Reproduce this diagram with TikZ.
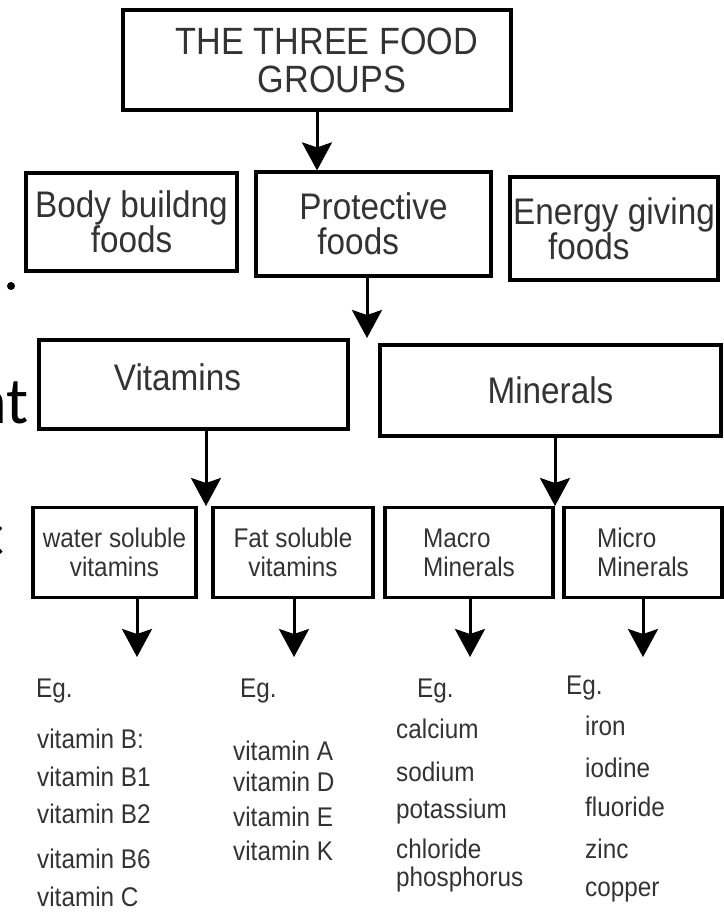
\documentclass[tikz,border=0pt]{standalone}
\usepackage{fontspec}
\setmainfont{Liberation Sans}
\newfontfamily\boxfont[FakeStretch=0.9]{Liberation Sans}
\newfontfamily\slidefont{Carlito}
\usetikzlibrary{arrows.meta}

\begin{document}
\begin{tikzpicture}[x=1pt, y=-1pt,
    box/.style={draw, line width=3.2pt, inner sep=0pt, align=center, text=black!80},
    big/.style={font=\boxfont\fontsize{37}{35}\selectfont},
    small/.style={font=\boxfont\fontsize{27}{29}\selectfont},
    arr/.style={line width=3pt, -{Stealth[length=28pt, width=30pt, inset=5pt]}},
    item/.style={anchor=base west, inner sep=0pt, text=black!80, font=\boxfont\fontsize{27}{30}\selectfont},
    frag/.style={anchor=base east, inner sep=0pt, font=\slidefont\fontsize{66}{66}\selectfont}]
    \useasboundingbox (0,0) rectangle (723,913);

    % bits of the slide behind
    \fill (11,286) circle (4pt);
    \node[frag] (fragnt) at (29,423) {nt};
    \node[frag] (fragc) at (5,556) {c};

    % boxes
    \node[box, minimum width=388pt, minimum height=100pt, font=\boxfont\fontsize{38}{38}\selectfont] (groups) at (317,60) {\hspace*{20pt}THE THREE FOOD\\\hspace*{30pt}GROUPS};
    \node[box, big, minimum width=211pt, minimum height=98pt] (body) at (131.5,222) {Body buildng\\foods};
    \node[box, big, minimum width=235pt, minimum height=104pt, align=left] (prot) at (373.5,224) {Protective\\\hspace*{18pt}foods};
    \node[box, big, minimum width=208pt, minimum height=103pt, align=left] (energy) at (614,228.5) {Energy giving\\\hspace*{35pt}foods};
    \node[box, big, minimum width=309pt, minimum height=89pt] (vit) at (193.5,384.5) {\raisebox{14pt}{Vitamins}\hspace*{32pt}};
    \node[box, big, minimum width=341pt, minimum height=91pt] (mins) at (550.5,390.5) {Minerals};
    \node[box, small, minimum width=163pt, minimum height=90pt] (ws) at (114.5,552.5) {water soluble\\vitamins};
    \node[box, small, minimum width=160pt, minimum height=90pt] (fat) at (293,552.5) {Fat soluble\\vitamins};
    \node[box, small, minimum width=168pt, minimum height=90pt, align=left] (macro) at (469,552.5) {Macro\\Minerals};
    \node[box, small, minimum width=158pt, minimum height=90pt, align=left] (micro) at (643,552.5) {Micro\\Minerals};

    % arrow tips
    \coordinate (t1) at (367,338);
    \coordinate (t2) at (206,506);
    \coordinate (t3) at (555,506);
    \coordinate (ta) at (137,657);
    \coordinate (tb) at (294,657);
    \coordinate (tc) at (470,657);
    \coordinate (td) at (643,657);

    \draw[arr] (groups.south) -- (groups.south |- prot.north);
    \draw[arr] (t1 |- prot.south) -- (t1);
    \draw[arr] (t2 |- vit.south) -- (t2);
    \draw[arr] (t3 |- mins.south) -- (t3);
    \foreach \b/\t in {ws/ta, fat/tb, macro/tc, micro/td}
    \draw[arr] (\t |- \b.south) -- (\t);

    % examples
    \node[item] (egws) at (36,697) {Eg.};
    \foreach \y/\txt [count=\i] in {748/vitamin B:, 786/vitamin B1, 823/vitamin B2, 868/vitamin B6, 906/vitamin C}
    \node[item] (ws\i) at (37,\y) {\txt};
    \node[item] (egfat) at (240,697) {Eg.};
    \foreach \y/\txt [count=\i] in {760/vitamin A, 791/vitamin D, 826/vitamin E, 860/vitamin K}
    \node[item] (fat\i) at (233,\y) {\txt};
    \node[item] (egmacro) at (417,697) {Eg.};
    \foreach \y/\txt [count=\i] in {738/calcium, 781/sodium, 818/potassium, 858/chloride, 886/phosphorus}
    \node[item] (macro\i) at (396,\y) {\txt};
    \node[item] (egmicro) at (566,694) {Eg.};
    \foreach \y/\txt [count=\i] in {735/iron, 777/iodine, 816/fluoride, 858/zinc, 896/copper}
    \node[item] (micro\i) at (585,\y) {\txt};
\end{tikzpicture}
\end{document}
